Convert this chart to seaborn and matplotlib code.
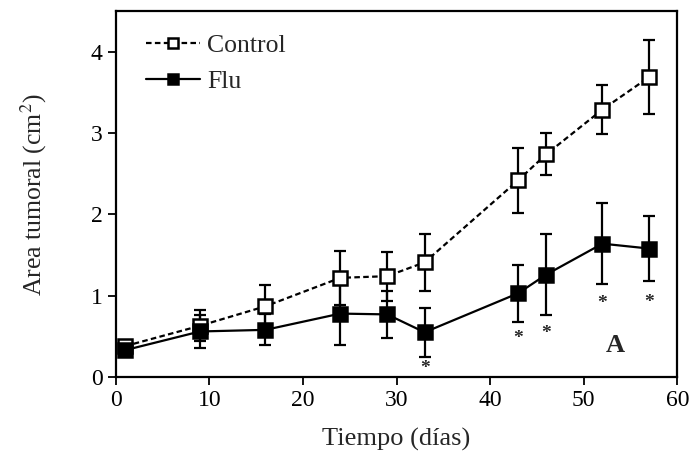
import matplotlib
matplotlib.use("Agg")
import matplotlib.pyplot as plt
import seaborn as sns
import pandas as pd

days = [1, 9, 16, 24, 29, 33, 43, 46, 52, 57]
control_mean = [0.38, 0.63, 0.87, 1.22, 1.24, 1.41, 2.42, 2.74, 3.29, 3.69]
control_err = [0.05, 0.19, 0.26, 0.33, 0.30, 0.35, 0.40, 0.26, 0.30, 0.45]
flu_mean = [0.33, 0.56, 0.58, 0.78, 0.77, 0.55, 1.03, 1.26, 1.64, 1.58]
flu_err = [0.05, 0.20, 0.19, 0.39, 0.29, 0.30, 0.35, 0.50, 0.50, 0.40]
star_days = [33, 43, 46, 52, 57]
star_y = [0.10, 0.47, 0.53, 0.90, 0.92]

sns.set_style("ticks")
plt.rcParams['font.family'] = ['Liberation Serif', 'DejaVu Serif']
plt.rcParams['mathtext.fontset'] = 'stix'

fig = plt.figure(figsize=(6.89, 4.66), dpi=100)
ax = fig.add_axes([0.168, 0.191, 0.815, 0.785])

df = pd.DataFrame({
    "day": days * 2,
    "area": control_mean + flu_mean,
    "group": ["Control"] * len(days) + ["Flu"] * len(days),
})

ax.errorbar(days, control_mean, yerr=control_err, fmt="none", ecolor="black",
            elinewidth=1.6, capsize=4.5, capthick=1.6, zorder=2)
ax.errorbar(days, flu_mean, yerr=flu_err, fmt="none", ecolor="black",
            elinewidth=1.6, capsize=4.5, capthick=1.6, zorder=2)

sns.lineplot(data=df[df.group == "Control"], x="day", y="area", ax=ax,
             color="black", linestyle=(0, (2.5, 1.5)), linewidth=1.6,
             marker="s", markersize=9.5, markerfacecolor="white",
             markeredgecolor="black", markeredgewidth=1.8,
             label="Control", zorder=3)
sns.lineplot(data=df[df.group == "Flu"], x="day", y="area", ax=ax,
             color="black", linestyle="-", linewidth=1.6,
             marker="s", markersize=9.5, markerfacecolor="black",
             markeredgecolor="black", markeredgewidth=1.8,
             label="Flu", zorder=4)

for d, y in zip(star_days, star_y):
    ax.text(d, y, "*", ha="center", va="center", fontsize=14, fontweight="bold")
ax.text(53.4, 0.39, "A", ha="center", va="center", fontsize=19, fontweight="bold")

ax.set_xlim(0, 60)
ax.set_ylim(0, 4.5)
ax.set_xticks([0, 10, 20, 30, 40, 50, 60])
ax.set_yticks([0, 1, 2, 3, 4])
ax.tick_params(direction="out", length=6, width=1.3, labelsize=17, colors="black")
for s in ax.spines.values():
    s.set_linewidth(1.6)
    s.set_color("black")

ax.set_xlabel("Tiempo (días)", fontsize=19, labelpad=12)
ax.set_ylabel("Area tumoral (cm$^2$)", fontsize=18.5, labelpad=30)

leg = ax.legend(loc="upper left", frameon=False, fontsize=18.5, handlelength=2.1,
                bbox_to_anchor=(0.012, 1.0), borderaxespad=0.5,
                handletextpad=0.3, labelspacing=0.5)
for h in leg.legend_handles:
    h.set_markersize(7.5)

fig.savefig("out.png", dpi=100)
